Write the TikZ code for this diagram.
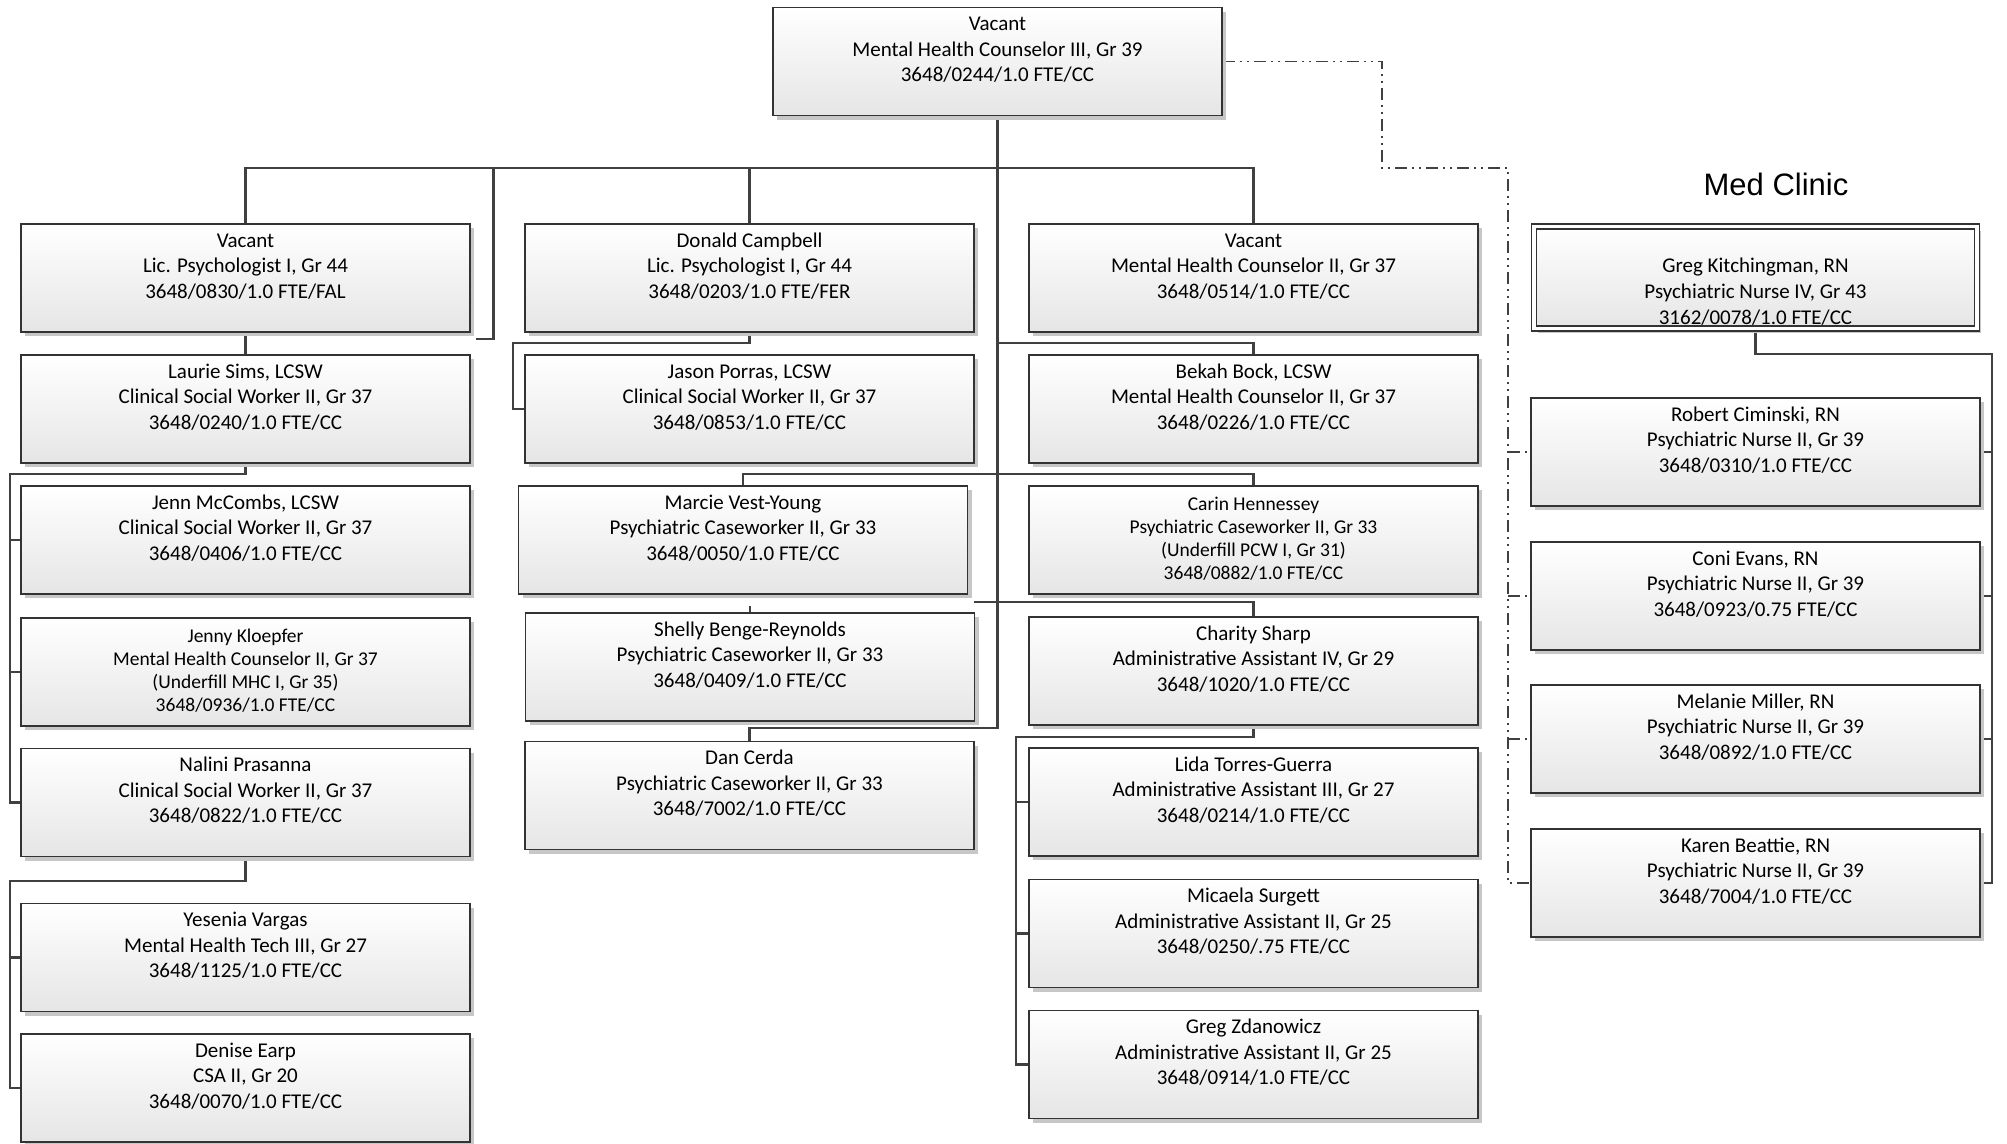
\documentclass[tikz,border=0pt]{standalone}
\usepackage{fontspec}
\setmainfont{Carlito}
\newfontfamily\titlefont{Liberation Sans}
\usetikzlibrary{shapes,shadows,backgrounds,positioning}

\newcommand{\jobtext}[3]{\strut #1\\\strut #2\\\strut #3\\\rule[-2.7pt]{0pt}{2.7pt}}
\newcommand{\jobtextiv}[4]{\strut #1\\\strut #2\\\strut #3\\\strut #4\rule[-5pt]{0pt}{1pt}}

\begin{document}
\begin{tikzpicture}[x=1pt,y=-1pt,
  box/.style={draw=black!80, line width=1.6pt, top color=white, bottom color=black!10,
    minimum width=449pt, minimum height=108pt, inner sep=0pt, align=center,
    font=\fontsize{21}{25.6}\selectfont,
    drop shadow={shadow xshift=4pt, shadow yshift=-4pt, fill=black!22, opacity=1}},
  smallbox/.style={box, font=\fontsize{19.5}{23}\selectfont},
  headbox/.style={box, double=white, double distance=3.5pt, line width=1.3pt,
    minimum width=443pt, minimum height=102pt},
  link/.style={draw=black!75, line width=2.2pt},
  dotlink/.style={draw=black!75, line width=1.3pt,
    dash pattern=on 12pt off 5pt on 2pt off 5pt on 2pt off 5pt}]

\useasboundingbox (0,0) rectangle (2007,1143);

% program lead
\node[box] (lead) at (997.5,61.5) {\jobtext{Vacant}{Mental Health Counselor III, Gr 39}{3648/0244/1.0 FTE/CC}};

% first column
\node[box] (vacpsy) at (245.5,278) {\jobtext{Vacant}{Lic. Psychologist I, Gr 44}{3648/0830/1.0 FTE/FAL}};
\node[box] (lsims) at (245.5,409) {\jobtext{Laurie Sims, LCSW}{Clinical Social Worker II, Gr 37}{3648/0240/1.0 FTE/CC}};
\node[box] (jmccombs) at (245.5,540) {\jobtext{Jenn McCombs, LCSW}{Clinical Social Worker II, Gr 37}{3648/0406/1.0 FTE/CC}};
\node[smallbox] (jkloepfer) at (245.5,672) {\jobtextiv{Jenny Kloepfer}{Mental Health Counselor II, Gr 37}{(Underfill MHC I, Gr 35)}{3648/0936/1.0 FTE/CC}};
\node[box] (nprasanna) at (245.5,802.5) {\jobtext{Nalini Prasanna}{Clinical Social Worker II, Gr 37}{3648/0822/1.0 FTE/CC}};
\node[box] (yvargas) at (245.5,957.5) {\jobtext{Yesenia Vargas}{Mental Health Tech III, Gr 27}{3648/1125/1.0 FTE/CC}};
\node[box] (dearp) at (245.5,1088) {\jobtext{Denise Earp}{CSA II, Gr 20}{3648/0070/1.0 FTE/CC}};

% second column
\node[box] (dcampbell) at (749.5,278) {\jobtext{Donald Campbell}{Lic. Psychologist I, Gr 44}{3648/0203/1.0 FTE/FER}};
\node[box] (jporras) at (749.5,409) {\jobtext{Jason Porras, LCSW}{Clinical Social Worker II, Gr 37}{3648/0853/1.0 FTE/CC}};
\node[box] (mvestyoung) at (743,540) {\jobtext{Marcie Vest-Young}{Psychiatric Caseworker II, Gr 33}{3648/0050/1.0 FTE/CC}};
\node[box] (sbenge) at (750,667) {\jobtext{Shelly Benge-Reynolds}{Psychiatric Caseworker II, Gr 33}{3648/0409/1.0 FTE/CC}};
\node[box] (dcerda) at (749.5,795.5) {\jobtext{Dan Cerda}{Psychiatric Caseworker II, Gr 33}{3648/7002/1.0 FTE/CC}};

% third column
\node[box] (vacmhc) at (1253.5,278) {\jobtext{Vacant}{Mental Health Counselor II, Gr 37}{3648/0514/1.0 FTE/CC}};
\node[box] (bbock) at (1253.5,409) {\jobtext{Bekah Bock, LCSW}{Mental Health Counselor II, Gr 37}{3648/0226/1.0 FTE/CC}};
\node[smallbox] (chennessey) at (1253.5,540) {\jobtextiv{Carin Hennessey}{Psychiatric Caseworker II, Gr 33}{(Underfill PCW I, Gr 31)}{3648/0882/1.0 FTE/CC}};
\node[box] (csharp) at (1253.5,671) {\jobtext{Charity Sharp}{Administrative Assistant IV, Gr 29}{3648/1020/1.0 FTE/CC}};
\node[box] (ltorres) at (1253.5,802) {\jobtext{Lida Torres-Guerra}{Administrative Assistant III, Gr 27}{3648/0214/1.0 FTE/CC}};
\node[box] (msurgett) at (1253.5,933.5) {\jobtext{Micaela Surgett}{Administrative Assistant II, Gr 25}{3648/0250/.75 FTE/CC}};
\node[box] (gzdanowicz) at (1253.5,1064.5) {\jobtext{Greg Zdanowicz}{Administrative Assistant II, Gr 25}{3648/0914/1.0 FTE/CC}};

% med clinic
\node[font=\titlefont\fontsize{31}{37}\selectfont, inner sep=0pt] (medclinic) at (1776,184) {Med Clinic};
\node[headbox] (gkitch) at (1755.5,277.5) {\strut\\\strut Greg Kitchingman, RN\\\strut Psychiatric Nurse IV, Gr 43\\3162/0078/1.0 FTE/CC\rule[-1.7pt]{0pt}{1pt}};
\node[box] (rciminski) at (1755.5,452) {\jobtext{Robert Ciminski, RN}{Psychiatric Nurse II, Gr 39}{3648/0310/1.0 FTE/CC}};
\node[box] (cevans) at (1755.5,596) {\jobtext{Coni Evans, RN}{Psychiatric Nurse II, Gr 39}{3648/0923/0.75 FTE/CC}};
\node[box] (mmiller) at (1755.5,739) {\jobtext{Melanie Miller, RN}{Psychiatric Nurse II, Gr 39}{3648/0892/1.0 FTE/CC}};
\node[box] (kbeattie) at (1755.5,883) {\jobtext{Karen Beattie, RN}{Psychiatric Nurse II, Gr 39}{3648/7004/1.0 FTE/CC}};

% junction points
\coordinate (bus) at (997.5,168);
\coordinate (tbock) at (997.5,343);
\coordinate (tpcw) at (997.5,474);
\coordinate (tsharp) at (974,602);
\coordinate (tcerda) at (997.5,728);
\coordinate (psyend) at (476,339);
\coordinate (porjog) at (513,343);
\coordinate (bengeend) at (750,606);
\coordinate (simsbus) at (10,474);
\coordinate (prasbus) at (10,881);
\coordinate (sharpbus) at (1016,737);
\coordinate (medbus) at (1992,354);
\coordinate (dotturn) at (1382,168);
\coordinate (dotbus) at (1508,883);

\begin{scope}[on background layer]
\draw[link] (lead.south) -- (tcerda) -| (dcerda.north);
\draw[link] (bus) -| (vacpsy.north);
\draw[link] (bus) -| (dcampbell.north);
\draw[link] (bus) -| (vacmhc.north);
\draw[link] (bus) -| (493.5,339) -- (psyend);
\draw[link] (tbock) -| (bbock.north);
\draw[link] (tpcw) -| (mvestyoung.north);
\draw[link] (tpcw) -| (chennessey.north);
\draw[link] (tsharp) -| (csharp.north);
\draw[link] (bengeend) -- (sbenge.north);

\draw[link] (vacpsy.south) -- (lsims.north);
\draw[link] (dcampbell.south) |- (porjog) |- (jporras.west);

\draw[link] (lsims.south) |- (simsbus) |- (nprasanna.west);
\draw[link] (simsbus) |- (jmccombs.west);
\draw[link] (simsbus) |- (jkloepfer.west);
\draw[link] (nprasanna.south) |- (prasbus) |- (dearp.west);
\draw[link] (prasbus) |- (yvargas.west);

\draw[link] (csharp.south) |- (sharpbus) |- (gzdanowicz.west);
\draw[link] (sharpbus) |- (ltorres.west);
\draw[link] (sharpbus) |- (msurgett.west);

\draw[link] (gkitch.south) |- (medbus) |- (kbeattie.east);
\draw[link] (medbus) |- (rciminski.east);
\draw[link] (medbus) |- (cevans.east);
\draw[link] (medbus) |- (mmiller.east);

% dotted line to the clinic
\draw[dotlink] (lead.east) -| (dotturn) -| (dotbus) -- (kbeattie.west);
\draw[dotlink] (dotbus |- rciminski.west) -- (rciminski.west);
\draw[dotlink] (dotbus |- cevans.west) -- (cevans.west);
\draw[dotlink] (dotbus |- mmiller.west) -- (mmiller.west);
\end{scope}

\end{tikzpicture}
\end{document}
